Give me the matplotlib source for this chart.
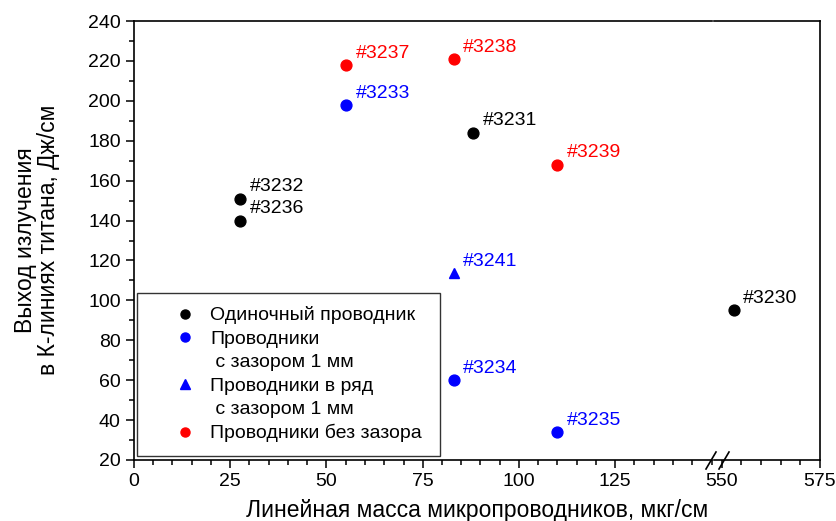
import matplotlib.pyplot as plt
from matplotlib.lines import Line2D
from matplotlib.ticker import MultipleLocator

plt.rcParams["font.family"] = ["Liberation Sans", "DejaVu Sans"]

# data: linear mass (ug/cm) and yield (J/cm)
single_x = [27.5, 27.5, 88, 553]
single_y = [151, 140, 184, 95]
single_lab = ["#3232", "#3236", "#3231", "#3230"]

gap_x = [55, 83, 110]
gap_y = [198, 60, 34]
gap_lab = ["#3233", "#3234", "#3235"]

row_x = [83]
row_y = [113.5]
row_lab = ["#3241"]

nogap_x = [55, 83, 110]
nogap_y = [218, 221, 168]
nogap_lab = ["#3237", "#3238", "#3239"]

xticks_left = [0, 25, 50, 75, 100, 125]
xticks_right = [550, 575]

legend_labels = ["Одиночный проводник", "Проводники", " с зазором 1 мм",
                 "Проводники в ряд", " с зазором 1 мм", "Проводники без зазора"]

W, H = 837, 521
fig = plt.figure(figsize=(W / 100, H / 100), dpi=100)

x0, x_brk1, x_brk2, x1 = 134, 711.5, 714, 820
ytop, ybot = 21, 460
axL = fig.add_axes([x0 / W, 1 - ybot / H, (x_brk1 - x0) / W, (ybot - ytop) / H])
axR = fig.add_axes([x_brk2 / W, 1 - ybot / H, (x1 - x_brk2) / W, (ybot - ytop) / H], sharey=axL)

axL.set_xlim(0, 150)
axR.set_xlim(548, 575)
axL.set_ylim(20, 240)

ms = 7.8
series = [
    (single_x, single_y, single_lab, "black", "o"),
    (gap_x, gap_y, gap_lab, "blue", "o"),
    (row_x, row_y, row_lab, "blue", "^"),
    (nogap_x, nogap_y, nogap_lab, "red", "o"),
]
for xs, ys, labs, col, mk in series:
    for x, y, lab in zip(xs, ys, labs):
        ax = axL if x <= 150 else axR
        ax.plot(x, y, marker=mk, color=col, ms=ms, ls="none", clip_on=False)
        ax.annotate(lab, (x, y), xytext=(7, 8.5), textcoords="offset points",
                    ha="left", va="center", color=col, fontsize=14)

for ax in (axL, axR):
    ax.spines["top"].set_linewidth(1.2)
    ax.spines["bottom"].set_linewidth(1.2)
    ax.tick_params(which="both", direction="out", labelsize=14, width=1.1)
    ax.tick_params(which="major", length=6)
    ax.tick_params(which="minor", length=3.5)
    ax.xaxis.set_minor_locator(MultipleLocator(5))

axL.spines["right"].set_visible(False)
axL.spines["left"].set_linewidth(1.2)
axL.set_xticks(xticks_left)
axL.yaxis.set_major_locator(MultipleLocator(20))
axL.yaxis.set_minor_locator(MultipleLocator(10))

axR.spines["left"].set_visible(False)
axR.spines["right"].set_linewidth(1.2)
axR.set_xticks(xticks_right)
axR.tick_params(axis="y", which="both", left=False, labelleft=False)

# break marks
for xc in (711, 724):
    fig.add_artist(Line2D([(xc - 5) / W, (xc + 5) / W],
                          [1 - (ybot + 9) / H, 1 - (ybot - 8) / H],
                          color="black", lw=1.2))

fig.text(477 / W, 1 - 511 / H, "Линейная масса микропроводников, мкг/см",
         ha="center", va="center", fontsize=16.5)
fig.text(37 / W, 1 - 240 / H, "Выход излучения\nв К-линиях титана, Дж/см",
         ha="center", va="center", rotation=90, fontsize=16.5, linespacing=1.05)

handles = [
    Line2D([], [], marker="o", color="black", ls="none", ms=6.5),
    Line2D([], [], marker="o", color="blue", ls="none", ms=6.5),
    Line2D([], [], ls="none"),
    Line2D([], [], marker="^", color="blue", ls="none", ms=6.5),
    Line2D([], [], ls="none"),
    Line2D([], [], marker="o", color="red", ls="none", ms=6.5),
]
axw = x_brk1 - x0
axh = ybot - ytop
leg = axL.legend(handles, legend_labels, loc="lower left",
                 bbox_to_anchor=(3 / axw, 4 / axh, 303 / axw, 163 / axh),
                 mode="expand",
                 borderaxespad=0, fancybox=False, edgecolor="black",
                 fontsize=14, labelspacing=0.3, handletextpad=-0.45,
                 borderpad=0.7, handlelength=3.5)
leg.get_frame().set_linewidth(1.0)

fig.savefig("out.png", dpi=100)
